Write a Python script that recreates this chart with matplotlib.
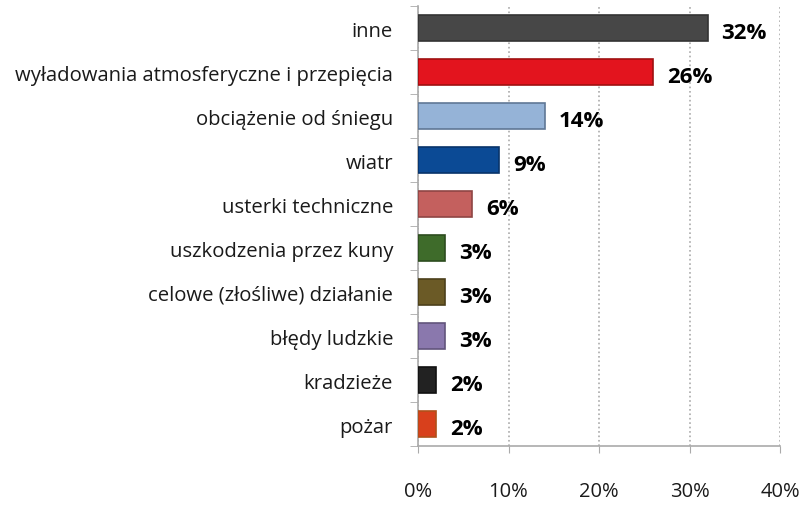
import numpy as np
import matplotlib.pyplot as plt
from matplotlib.ticker import FixedLocator

plt.rcParams['font.family'] = ['Open Sans', 'DejaVu Sans']

kategorie = ["inne", "wyładowania atmosferyczne i przepięcia", "obciążenie od śniegu",
             "wiatr", "usterki techniczne", "uszkodzenia przez kuny",
             "celowe (złośliwe) działanie", "błędy ludzkie", "kradzieże", "pożar"]
wartosci = [32, 26, 14, 9, 6, 3, 3, 3, 2, 2]
kolory = ["#474747", "#e3141e", "#95b3d7", "#0b4a95", "#c4605e",
          "#3e6b2a", "#6b5a26", "#8a78ad", "#222222", "#d8401c"]
krawedzie = ["#333333", "#a01010", "#607896", "#08346a", "#8f4544",
             "#2c4c1e", "#4c401b", "#62557c", "#111111", "#b0501a"]
os_x = [0, 10, 20, 30, 40]

fig = plt.figure(figsize=(8, 5.1), dpi=100)
ax = fig.add_axes([0.5225, 0.1235, 0.4525, 0.8625])

y = np.arange(len(kategorie))
ax.barh(y, wartosci, height=0.6, color=kolory, edgecolor=krawedzie, linewidth=1.2, zorder=3)
for yi, v in zip(y, wartosci):
    ax.text(v + 1.5, yi + 0.1, f"{v}%", va="center", ha="left",
            fontsize=16, fontweight="bold", color="black")

ax.set_ylim(len(kategorie) - 0.5, -0.5)
ax.set_xlim(0, 40)
ax.set_yticks(y)
ax.set_yticklabels(kategorie, fontsize=14.6, color="#1a1a1a")
ax.yaxis.set_minor_locator(FixedLocator(np.arange(-0.5, len(kategorie), 1)))
ax.tick_params(axis="y", which="major", length=0, pad=18)
ax.tick_params(axis="y", which="minor", length=6, color="#aaaaaa")
ax.set_xticks(os_x)
ax.set_xticklabels([f"{t}%" for t in os_x], fontsize=14.5, color="#1a1a1a")
ax.tick_params(axis="x", length=5, color="#aaaaaa", pad=20)

ax.grid(axis="x", linestyle=":", color="#aaaaaa", linewidth=1.2, zorder=0)
for s in ["top", "right"]:
    ax.spines[s].set_visible(False)
for s in ["left", "bottom"]:
    ax.spines[s].set_color("#aaaaaa")
    ax.spines[s].set_linewidth(1.2)

fig.savefig("out.png", dpi=100)
